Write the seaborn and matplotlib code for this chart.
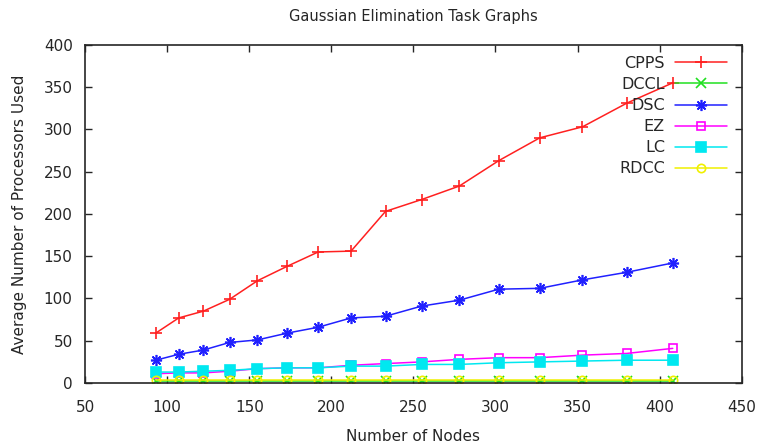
import numpy as np
import pandas as pd
import matplotlib
matplotlib.use("Agg")
import matplotlib.pyplot as plt
import seaborn as sns

nodes = [93, 107, 122, 138, 155, 173, 192, 212, 233, 255, 278, 302, 327, 353, 380, 408]
cpps = [59, 77, 85, 99, 121, 138, 155, 156, 203, 217, 233, 263, 290, 303, 331, 355]
dccl = [2.5] * 16
dsc = [27, 34, 39, 48, 51, 59, 66, 77, 79, 91, 98, 111, 112, 122, 131, 142]
ez = [11, 12, 12, 14, 17, 18, 18, 21, 23, 25, 28, 30, 30, 33, 35, 41]
lc = [13, 13, 14, 15, 17, 18, 18, 20, 20, 22, 22, 24, 25, 26, 27, 27]
rdcc = [3.5] * 16
series_names = ["CPPS", "DCCL", "DSC", "EZ", "LC", "RDCC"]
series_vals = [cpps, dccl, dsc, ez, lc, rdcc]

rows = []
for name, vals in zip(series_names, series_vals):
    for x, y in zip(nodes, vals):
        rows.append({"Nodes": x, "Value": y, "Algorithm": name})
df = pd.DataFrame(rows)

sns.set_style("ticks")
plt.rcParams['font.family'] = ['DejaVu Sans']

colors = {"CPPS": "#ff2020", "DCCL": "#20e020", "DSC": "#2020ff",
          "EZ": "#ff00ff", "LC": "#00e8f0", "RDCC": "#f0f000"}
markers = {"CPPS": "+", "DCCL": "x", "DSC": (8, 2, 0), "EZ": "s", "LC": "s", "RDCC": "o"}
msizes = {"CPPS": 8, "DCCL": 7, "DSC": 8, "EZ": 6, "LC": 6.5, "RDCC": 6}

fig = plt.figure(figsize=(7.67, 4.48), dpi=100)
ax = fig.add_axes([0.111, 0.145, 0.856, 0.755])

for name in series_names:
    sub = df[df["Algorithm"] == name]
    kw = dict(markersize=msizes[name], markeredgewidth=1.2,
              markeredgecolor=colors[name])
    if name in ("EZ", "RDCC"):
        kw["markerfacecolor"] = "none"
    else:
        kw["markerfacecolor"] = colors[name]
    sns.lineplot(data=sub, x="Nodes", y="Value", ax=ax, color=colors[name],
                 marker=markers[name], label=name, linewidth=1.1, **kw)

ax.set_xlim(50, 450)
ax.set_ylim(0, 400)
ax.set_xticks(range(50, 451, 50))
ax.set_yticks(range(0, 401, 50))
ax.tick_params(direction="in", top=True, right=True, labelsize=11, length=5, width=1)
ax.tick_params(axis="x", pad=12)
ax.tick_params(axis="y", pad=9)
for s in ax.spines.values():
    s.set_linewidth(1.2)
ax.set_xlabel("Number of Nodes", fontsize=11, labelpad=10)
ax.set_ylabel("Average Number of Processors Used", fontsize=11, labelpad=12)
ax.set_title("Gaussian Elimination Task Graphs", fontsize=10.5, pad=17)

leg = ax.legend(loc="upper right", frameon=False, markerfirst=False, fontsize=11.5,
                handlelength=3.3, handletextpad=0.6, labelspacing=0.38,
                borderaxespad=0.3, bbox_to_anchor=(0.995, 1.0))

fig.savefig("out.png", dpi=100)
